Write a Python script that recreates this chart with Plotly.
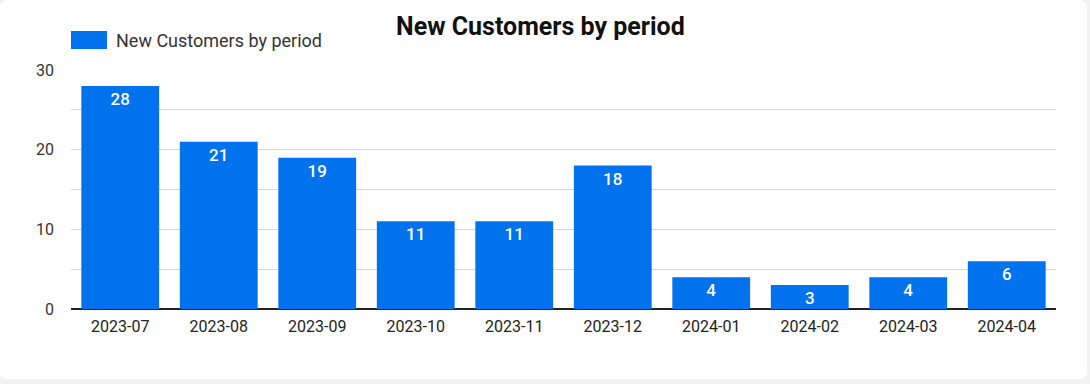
import plotly.graph_objects as go

periods = ["2023-07", "2023-08", "2023-09", "2023-10", "2023-11",
           "2023-12", "2024-01", "2024-02", "2024-03", "2024-04"]
new_customers = [28, 21, 19, 11, 11, 18, 4, 3, 4, 6]
series_name = "New Customers by period"
y_ticks = [0, 10, 20, 30]

W, H = 1090, 384
L, R, T, B = 71, 34, 70, 75
PW, PH = W - L - R, H - T - B

def px_x(px):
    return (px - L) / PW

def px_y(py):
    return (H - B - py) / PH

bar_color = "#0072ee"

fig = go.Figure()
fig.add_trace(go.Bar(
    x=periods, y=new_customers, name=series_name,
    marker=dict(color=bar_color, line=dict(width=0)),
    text=new_customers, textposition="inside", insidetextanchor="end",
    textangle=0, constraintext="none",
    textfont=dict(color="white", size=17, family="Roboto", weight=500),
    showlegend=False,
))

# card background with rounded corners
x0, x1, y0, y1, r = px_x(0), px_x(1087), px_y(379), px_y(0), 8
rx, ry = r / PW, r / PH
path = (f"M {x0+rx},{y0} L {x1-rx},{y0} Q {x1},{y0} {x1},{y0+ry} "
        f"L {x1},{y1-ry} Q {x1},{y1} {x1-rx},{y1} L {x0+rx},{y1} "
        f"Q {x0},{y1} {x0},{y1-ry} L {x0},{y0+ry} Q {x0},{y0} {x0+rx},{y0} Z")
shapes = [dict(type="path", xref="paper", yref="paper", path=path,
               fillcolor="white", line=dict(width=0), layer="below")]
# legend swatch
shapes.append(dict(type="rect", xref="paper", yref="paper",
                   x0=px_x(71), x1=px_x(107), y0=px_y(49), y1=px_y(31),
                   fillcolor=bar_color, line=dict(width=0)))

fig.update_layout(
    width=W, height=H,
    margin=dict(l=L, r=R, t=T, b=B),
    paper_bgcolor="#f2f2f2", plot_bgcolor="rgba(0,0,0,0)",
    font=dict(family="Roboto", color="#333333"),
    bargap=0.21,
    shapes=shapes,
    annotations=[
        dict(text="<b>New Customers by period</b>", xref="paper", yref="paper",
             x=px_x(540), y=px_y(27), xanchor="center", yanchor="middle",
             showarrow=False, font=dict(size=25, color="#111111", family="Roboto")),
        dict(text=series_name, xref="paper", yref="paper",
             x=px_x(114), y=px_y(40), xanchor="left", yanchor="middle",
             showarrow=False, font=dict(size=18, color="#333333", family="Roboto")),
    ],
    xaxis=dict(type="category", showgrid=False,
               tickfont=dict(size=16, color="#222222"),
               ticks="", showline=False, ticklabelstandoff=6),
    yaxis=dict(range=[0, 30], tickvals=y_ticks, showgrid=True,
               gridcolor="#d6d6d6", gridwidth=1,
               minor=dict(dtick=5, showgrid=True, gridcolor="#d6d6d6"),
               zeroline=True, zerolinecolor="#222222", zerolinewidth=1.5,
               tickfont=dict(size=16, color="#333333"), ticklabelstandoff=16,
               fixedrange=True),
)

fig.write_html("out.html",
               config={"displayModeBar": False},
               post_script="document.body.style.margin='0';"
                           "document.body.style.background='#f2f2f2';")
